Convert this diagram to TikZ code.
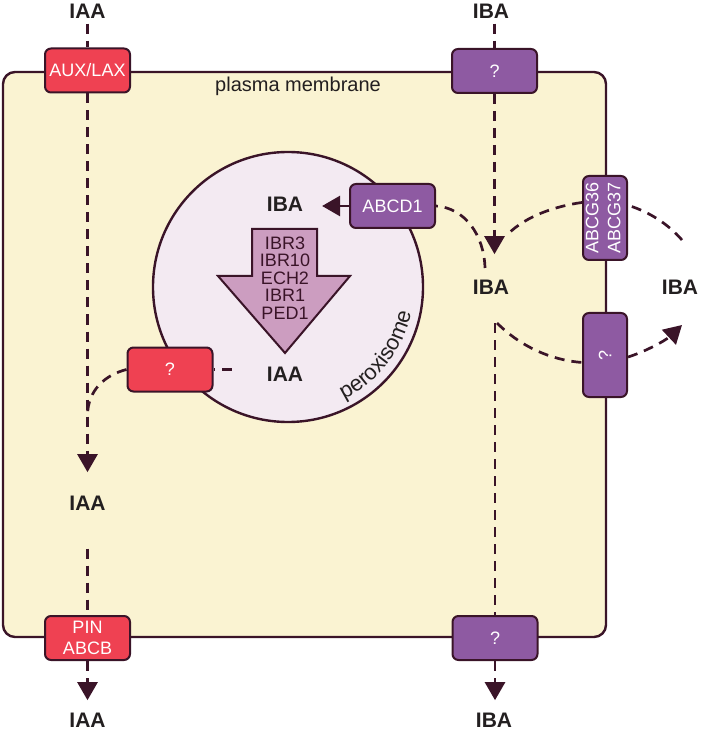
\documentclass[tikz,border=0pt]{standalone}
\usepackage{fontspec}
\setmainfont{Liberation Sans}
\usetikzlibrary{arrows.meta, decorations.text}
\definecolor{cellfill}{HTML}{FAF3D2}
\definecolor{edge}{HTML}{3A1428}
\definecolor{auxred}{HTML}{EF4152}
\definecolor{ibapurple}{HTML}{8E5AA2}
\definecolor{peroxfill}{HTML}{F3EAF2}
\definecolor{enzfill}{HTML}{CC9DC0}
\definecolor{ink}{HTML}{231F20}

\begin{document}
\begin{tikzpicture}[x=0.5pt, y=-0.5pt,
    lbl/.style={font=\bfseries\fontsize{10.5}{12}\selectfont, text=ink, inner sep=0pt},
    carrier/.style={draw=edge, line width=1pt, rounded corners=3pt, text=white,
      font=\fontsize{9}{10.5}\selectfont, minimum width=42.5pt, minimum height=22pt,
      inner sep=0pt, align=center},
    auxc/.style={carrier, fill=auxred},
    ibac/.style={carrier, fill=ibapurple},
    flow/.style={draw=edge, line width=1.35pt, dash pattern=on 5pt off 3.5pt},
    tip/.style={-{Triangle[length=9pt, width=10pt]}}]
  \useasboundingbox (0,0) rectangle (700,731);
  % cell and peroxisome
  \draw[edge, fill=cellfill, line width=1.2pt, rounded corners=6pt] (3,72) rectangle (606,637);
  \node[font=\fontsize{10}{12}\selectfont, text=ink] (pm) at (298,86) {plasma membrane};
  \draw[edge, fill=peroxfill, line width=1.2pt] (288,287) circle[radius=135];
  \path[decorate, decoration={text along path, text align=center,
      text={|\fontsize{11}{13}\selectfont\color{ink}|peroxisome}}]
    (339,402) .. controls (378,385) and (406,349) .. (412,307);
  % beta-oxidation
  \draw[edge, fill=enzfill, line width=1pt] (252,229) -- (317,229) -- (317,276) -- (350,276)
    -- (285,353) -- (218,276) -- (252,276) -- cycle;
  \node[align=center, text=edge, font=\fontsize{9}{8.75}\selectfont, inner sep=0pt] (enz)
    at (285,278) {IBR3\\IBR10\\ECH2\\IBR1\\PED1};

  % auxins
  \node[lbl] (iaaTop) at (87.5,11) {IAA};
  \node[lbl] (ibaTop) at (491,11) {IBA};
  \node[lbl] (ibaPer) at (285,204) {IBA};
  \node[lbl] (iaaPer) at (285,374) {IAA};
  \node[lbl] (iaaCyt) at (87.5,503) {IAA};
  \node[lbl] (ibaCyt) at (491,287) {IBA};
  \node[lbl] (ibaOut) at (680,287) {IBA};
  \node[lbl] (iaaBot) at (87.5,720) {IAA};
  \node[lbl] (ibaBot) at (494,720) {IBA};

  % carriers
  \node[auxc] (auxlax) at (87.5,70.5) {AUX/LAX};
  \node[ibac] (ibaIn) at (494.5,71) {?};
  \node[ibac] (abcd1) at (392.5,206) {ABCD1};
  \node[ibac, minimum width=22pt, minimum height=42pt] (abcg) at (605,218)
    {\rotatebox{90}{\fontsize{9}{11}\selectfont\begin{tabular}{@{}c@{}}ABCG36\\ABCG37\end{tabular}}};
  \node[ibac, minimum width=22pt, minimum height=42pt] (ibaEff) at (605,355) {\rotatebox{90}{?}};
  \node[auxc] (peroxQ) at (170,369.5) {?};
  \node[auxc] (pin) at (87.5,638) {PIN\\ABCB};
  \node[ibac] (ibaOutQ) at (495,638) {?};

  \coordinate (ibaOutUp) at (682,240);
  \coordinate (ibaOutLow) at (682,325);
  \coordinate (ibaJoin) at (508,234);
  \coordinate (ibaCytUp) at (485,268);
  \coordinate (ibaCytLow) at (497,323);
  \coordinate (iaaJoin) at (87.5,415);

  % IAA route
  \draw[flow, shorten <=2.5pt] (iaaTop.south) -- (auxlax.north);
  \draw[flow, tip, shorten >=11.6pt] (auxlax.south) -- (iaaCyt.north);
  \draw[flow, shorten <=19pt] (iaaCyt.south) -- (pin.north);
  \draw[flow, tip, shorten >=6.1pt] (pin.south) -- (iaaBot.north);
  \draw[flow, shorten <=17.5pt] (peroxQ.east -| iaaPer.west) -- (peroxQ.east);
  \draw[flow] (peroxQ.west) .. controls (105,375) and (88,390) .. (iaaJoin);

  % IBA route
  \draw[flow, shorten <=2.5pt] (ibaIn.north |- ibaTop.south) -- (ibaIn.north);
  \draw[flow, tip, shorten >=12.6pt] (ibaIn.south) -- (ibaIn.south |- ibaCyt.north);
  \draw[flow, shorten <=14.4pt] (ibaOutQ.north |- ibaCyt.south) -- (ibaOutQ.north);
  \draw[flow, tip, shorten >=6.1pt] (ibaOutQ.south) -- (ibaOutQ.south |- ibaBot.north);
  \draw[flow] (ibaCytUp) .. controls (484,235) and (465,208) .. (abcd1.east);
  \draw[flow, tip, shorten >=9.3pt] (abcd1.west) -- (abcd1.west -| ibaPer.east);
  \draw[flow] (ibaOutUp) .. controls (667,223) and (649,212) .. (abcg.29);
  \draw[flow] (abcg.146) .. controls (556,206) and (526,216) .. (ibaJoin);
  \draw[flow] (ibaCytLow) .. controls (520,346) and (550,360) .. (ibaEff.198);
  \draw[flow, tip] (ibaEff.355) .. controls (647,351) and (666,340) .. (ibaOutLow);
\end{tikzpicture}
\end{document}
